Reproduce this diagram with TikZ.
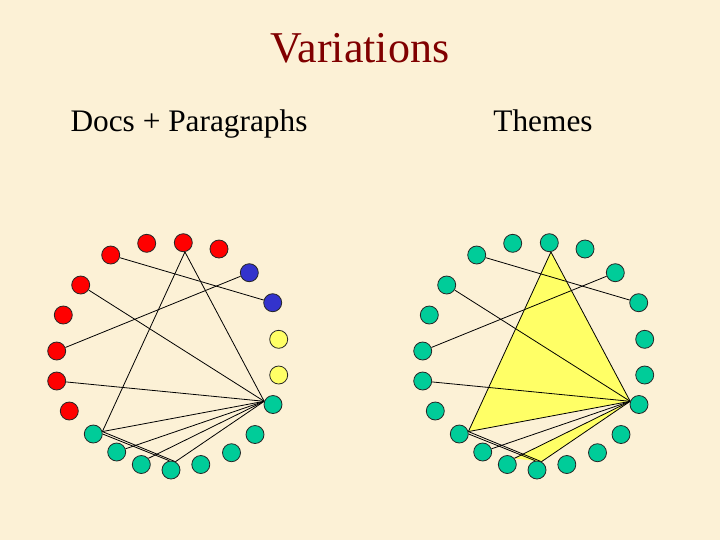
\documentclass[tikz,border=0pt]{standalone}
\usepackage{fontspec}
\setmainfont{Liberation Serif}
\definecolor{bgc}{RGB}{252,241,214}
\definecolor{nred}{RGB}{255,0,0}
\definecolor{nblue}{RGB}{51,51,204}
\definecolor{nyel}{RGB}{255,255,102}
\definecolor{ngreen}{RGB}{0,204,153}
\definecolor{titlec}{RGB}{128,0,0}
\pgfdeclarelayer{back}
\pgfsetlayers{back,main}
\begin{document}
\begin{tikzpicture}[x=0.75pt,y=-0.75pt,
  dot/.style={circle,draw=black!85,line width=0.6pt,minimum size=13.5pt,inner sep=0pt},
  edge/.style={line width=0.6pt,black},
  tri/.style={fill=nyel}]
\useasboundingbox (0,0) rectangle (720,540);
% nodes
\foreach \i/\x/\y/\c in {1/146.7/243.3/nred, 2/183.3/242.7/nred, 3/219/249/nred,
  4/249.3/272.7/nblue, 5/272.7/302.7/nblue, 6/278.7/339.3/nyel, 7/278.7/375/nyel,
  8/273/404.5/ngreen, 9/255/434.5/ngreen, 10/231.5/452.7/ngreen, 11/200.8/464.5/ngreen,
  12/171/470/ngreen, 13/141.3/464.5/ngreen, 14/116.7/452/ngreen, 15/93.3/434/ngreen,
  16/69.3/411/nred, 17/56.7/381/nred, 18/56.7/351/nred, 19/63.3/315/nred,
  20/80.7/285/nred, 21/110.7/255/nred}{
  \node[dot,fill=\c] (L\i) at (\x,\y) {};
  \node[dot,fill=ngreen] (R\i) at (\x+366,\y) {};
}
% titles
\node[anchor=base,text=titlec,font=\fontsize{33}{38}\selectfont] (title) at (360,62) {Variations};
\node[anchor=base,font=\fontsize{23.5}{28}\selectfont] (left) at (189,131) {Docs + Paragraphs};
\node[anchor=base,font=\fontsize{23.5}{28}\selectfont] (right) at (543,131) {Themes};
\begin{pgfonlayer}{back}
\fill[bgc] (0,0) rectangle (720,540);
\fill[tri] (R2.280) -- (R8.160) -- (R15.15) -- cycle;
\fill[tri] (R8.160) -- (R12.62) -- (R13.41) -- cycle;
\foreach \s in {L,R}{
  \coordinate (\s h) at (\s8.160);
  \draw[edge] (\s21) -- (\s5);
  \draw[edge] (\s4) -- (\s18);
  \draw[edge] (\s20) -- (\s h);
  \draw[edge] (\s17) -- (\s h);
  \draw[edge] (\s2.280) -- (\s h);
  \draw[edge] (\s2.280) -- (\s15.15);
  \draw[edge] (\s15.15) -- (\s h);
  \draw[edge] (\s15.15) -- (\s12.62);
  \draw[edge] (\s15.0) -- (\s12.100);
  \draw[edge] (\s h) -- (\s14.20);
  \draw[edge] (\s h) -- (\s13.41);
  \draw[edge] (\s h) -- (\s12.62);
}
\end{pgfonlayer}
\end{tikzpicture}
\end{document}
